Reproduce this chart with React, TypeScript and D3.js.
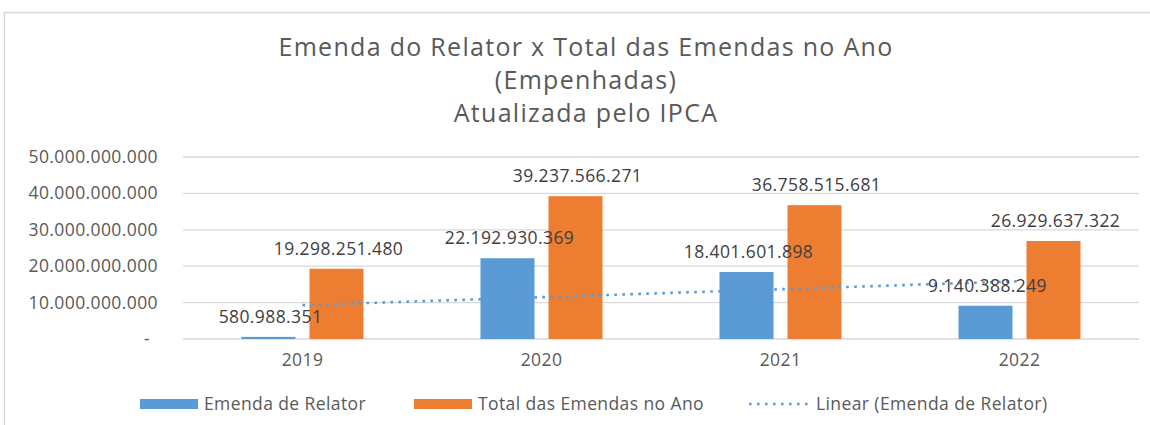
import React from 'react';
import * as d3 from 'd3';

const years = ['2019', '2020', '2021', '2022'];
const emendaRelator = [580988351, 22192930369, 18401601898, 9140388249];
const totalEmendas = [19298251480, 39237566271, 36758515681, 26929637322];
const yTicks = [0, 10000000000, 20000000000, 30000000000, 40000000000, 50000000000];
const titleLines = ['Emenda do Relator x Total das Emendas no Ano', '(Empenhadas)', 'Atualizada pelo IPCA'];
const seriesNames = ['Emenda de Relator', 'Total das Emendas no Ano', 'Linear (Emenda de Relator)'];

const W = 1150;
const H = 425;
const BLUE = '#5B9BD5';
const ORANGE = '#ED7D31';
const FONT = '"Open Sans", sans-serif';
const FS = 17.5;
const LS = 0.4;

const ptBR = d3.formatLocale({ decimal: ',', thousands: '.', grouping: [3], currency: ['R$', ''] });
const fmt = ptBR.format(',d');

export default function App() {
  const x = d3.scaleBand<string>().domain(years).range([183, 1139]);
  const xs = d3.scaleBand<string>().domain(['rel', 'tot']).range([0, x.bandwidth()]).paddingInner(0.206).paddingOuter(0.86);
  const y = d3.scaleLinear().domain([0, 50000000000]).range([339, 157]);

  // linear trendline (least squares) on Emenda de Relator, like Excel
  const idx = emendaRelator.map((_, i) => i + 1);
  const mx = d3.mean(idx)!;
  const my = d3.mean(emendaRelator)!;
  const slope = d3.sum(idx.map((v, i) => (v - mx) * (emendaRelator[i] - my))) / d3.sum(idx.map((v) => (v - mx) ** 2));
  const icpt = my - slope * mx;
  const trend = years.map((yr, i) => [x(yr)! + x.bandwidth() / 2, y(icpt + slope * (i + 1))] as [number, number]);
  const trendPath = d3.line()([trend[0], trend[trend.length - 1]]);

  return (
    <svg width={W} height={H} style={{ position: 'absolute', left: 0, top: 0 }} fontFamily={FONT}>
      <rect x={0} y={0} width={W} height={H} fill="#fff" />
      <rect x={4.5} y={12.5} width={W + 20} height={H + 20} fill="none" stroke="#D9D9D9" strokeWidth={1.5} />
      {titleLines.map((t, i) => (
        <text key={t} x={586} y={56 + i * 33} textAnchor="middle" fontSize={25} letterSpacing={1.3} fill="#595959">{t}</text>
      ))}
      {yTicks.map((t) => (
        <g key={t}>
          <line x1={183} x2={1139} y1={y(t)} y2={y(t)} stroke="#D9D9D9" strokeWidth={1.3} />
          <text x={t === 0 ? 150 : 158} y={y(t) + 6} textAnchor="end" fontSize={FS} letterSpacing={LS} fill="#595959">{t === 0 ? '-' : fmt(t)}</text>
        </g>
      ))}
      {years.map((yr, i) => (
        <g key={yr}>
          <rect x={x(yr)! + xs('rel')!} y={y(emendaRelator[i])} width={xs.bandwidth()} height={y(0) - y(emendaRelator[i])} fill={BLUE} />
          <rect x={x(yr)! + xs('tot')!} y={y(totalEmendas[i])} width={xs.bandwidth()} height={y(0) - y(totalEmendas[i])} fill={ORANGE} />
          <text x={x(yr)! + x.bandwidth() / 2} y={366} textAnchor="middle" fontSize={FS} letterSpacing={LS} fill="#595959">{yr}</text>
        </g>
      ))}
      <path d={trendPath!} fill="none" stroke={BLUE} strokeWidth={2.6} strokeDasharray="2.6 5.4" />
      {years.map((yr, i) => (
        <g key={'l' + yr}>
          <text x={x(yr)! + xs('rel')! + xs.bandwidth() / 2 + 2} y={y(emendaRelator[i]) - 14} textAnchor="middle" fontSize={FS} letterSpacing={LS} fill="#404040">{fmt(emendaRelator[i])}</text>
          <text x={x(yr)! + xs('tot')! + xs.bandwidth() / 2 + 2} y={y(totalEmendas[i]) - 14} textAnchor="middle" fontSize={FS} letterSpacing={LS} fill="#404040">{fmt(totalEmendas[i])}</text>
        </g>
      ))}
      <g>
        <rect x={140} y={399} width={58} height={10} fill={BLUE} />
        <text x={204} y={410} fontSize={FS} letterSpacing={LS} fill="#595959">{seriesNames[0]}</text>
        <rect x={414} y={399} width={58} height={10} fill={ORANGE} />
        <text x={478} y={410} fontSize={FS} letterSpacing={LS} fill="#595959">{seriesNames[1]}</text>
        <line x1={749} x2={810} y1={404} y2={404} stroke={BLUE} strokeWidth={2.6} strokeDasharray="2.6 5.4" />
        <text x={816} y={410} fontSize={FS} letterSpacing={LS} fill="#595959">{seriesNames[2]}</text>
      </g>
    </svg>
  );
}
